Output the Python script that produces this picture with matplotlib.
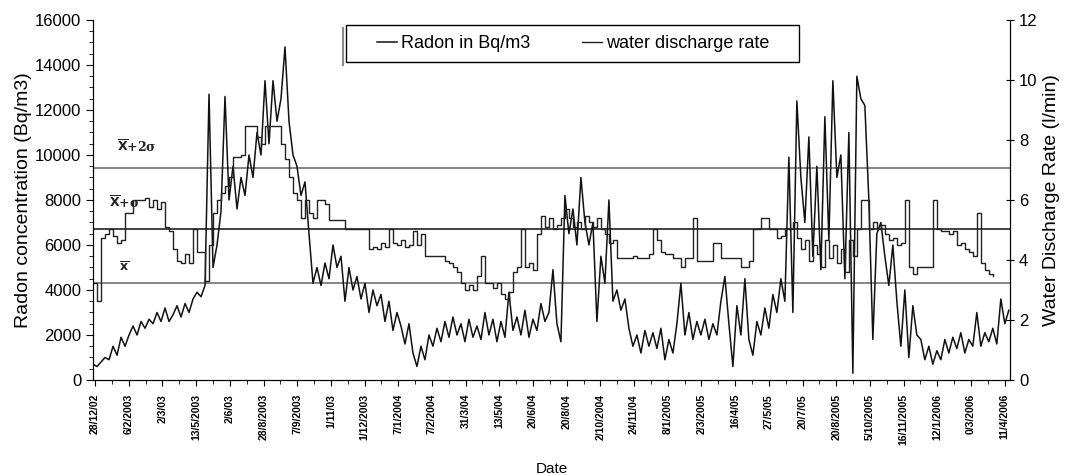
import numpy as np
import matplotlib
matplotlib.use("Agg")
import matplotlib.pyplot as plt
from matplotlib.ticker import MultipleLocator
from matplotlib.patches import Rectangle

plt.rcParams['font.family'] = ['Liberation Sans', 'DejaVu Sans']

# date labels on the x axis (evenly spaced categories)
date_labels = ["28/12/02", "6/2/2003", "2/3/03", "13/5/2003", "2/6/03", "28/8/2003",
               "7/9/2003", "1/11/03", "1/12/2003", "7/1/2004", "7/2/2004", "31/3/04",
               "13/5/04", "20/6/04", "20/8/04", "2/10/2004", "24/11/04", "8/1/2005",
               "2/3/2005", "16/4/05", "27/5/05", "20/7/05", "20/8/2005", "5/10/2005",
               "16/11/2005", "12/1/2006", "0/3/2006", "11/4/2006"]

# radon concentration (Bq/m3)
radon = [700, 600, 800, 1000, 900, 1500, 1100, 1900, 1500, 2000, 2400, 2000, 2600, 2300,
         2700, 2500, 3000, 2600, 3200, 2600, 2900, 3300, 2800, 3400, 3000, 3600, 3900, 3700,
         4200, 12700, 5000, 6000, 7500, 12600, 8000, 9500, 7600, 9000, 8200, 10000, 9000,
         11000, 10000, 13300, 10500, 13300, 11500, 12500, 14800, 11500, 10000, 9500, 8200,
         8800, 6500, 4300, 5000, 4200, 5200, 4500, 6000, 5000, 5500, 3500, 5000, 4000, 4600,
         3600, 4300, 3000, 4000, 3300, 3800, 2600, 3500, 2200, 3000, 2400, 1600, 2500, 1200,
         600, 1500, 900, 2000, 1500, 2300, 1700, 2600, 1900, 2800, 2000, 2500, 1700, 2700,
         1900, 2400, 1800, 3000, 2000, 2700, 1700, 2600, 1900, 3900, 2200, 2800, 2000, 3100,
         1900, 2700, 2200, 3400, 2600, 3000, 4900, 2500, 1700, 8200, 6500, 7600, 6000, 9000,
         7000, 6000, 7000, 2600, 5500, 4300, 8000, 3500, 4000, 3100, 3600, 2300, 1500, 2000,
         1200, 2200, 1500, 2100, 1400, 2300, 900, 1800, 1200, 2500, 4300, 2000, 3000, 1800,
         2600, 2000, 2700, 1800, 2500, 2000, 3500, 4600, 2500, 600, 3300, 2000, 4500, 1800,
         1100, 2600, 2000, 3200, 2300, 3800, 3000, 4500, 3500, 9900, 3000, 12400, 9000, 7000,
         10800, 5500, 9500, 4900, 11700, 6200, 13300, 9000, 10000, 4500, 11000, 300, 13500,
         12500, 12200, 8000, 1800, 6500, 7000, 5500, 4200, 6000, 3500, 1500, 4000, 1000, 3300,
         2000, 1800, 900, 1500, 700, 1300, 900, 1800, 1200, 1900, 1400, 2100, 1200, 1800,
         1500, 3000, 1500, 2100, 1700, 2300, 1600, 3600, 2500, 3100]

# water discharge rate, in radon-axis units (scaled 16000 <-> 12 l/min)
discharge_scaled = [4300, 3500, 6300, 6500, 6700, 6400, 6100, 6200, 7400, 7400, 8000, 8000,
                    8000, 8100, 7700, 8000, 7600, 7900, 6800, 6600, 5800, 5300, 5200, 5600,
                    5200, 6700, 5700, 5700, 4400, 6000, 7400, 8000, 8300, 8600, 9000, 9900,
                    9900, 10000, 11300, 11300, 11300, 10800, 10500, 11300, 11300, 11300,
                    11300, 10500, 9800, 9000, 8300, 8000, 7200, 8000, 7400, 7200, 8000, 8000,
                    7800, 7100, 7100, 7100, 7100, 6700, 6700, 6700, 6700, 6700, 6700, 5800,
                    5900, 5800, 6100, 5900, 6700, 6100, 6000, 6200, 5900, 6000, 6600, 6000,
                    6500, 5500, 5500, 5500, 5500, 5500, 5300, 5200, 5000, 4800, 4300, 4000,
                    4200, 4000, 4600, 5500, 4300, 4300, 4100, 4300, 3800, 3600, 3900, 4800,
                    5000, 6700, 5000, 5200, 4900, 6500, 7300, 6800, 7200, 6700, 6900, 7200,
                    7600, 7200, 6800, 7000, 6700, 7300, 7000, 6800, 7200, 6700, 6500, 6100,
                    6200, 5400, 5400, 5400, 5400, 5500, 5400, 5400, 5400, 5600, 6700, 6200,
                    5700, 5600, 5600, 5400, 5400, 5000, 5400, 5400, 7200, 5300, 5300, 5300,
                    5300, 6100, 6100, 5400, 5400, 5400, 5400, 5400, 5000, 5000, 5300, 6700,
                    6700, 7200, 7200, 6700, 6700, 6300, 6400, 6700, 6700, 7000, 6300, 5800,
                    6200, 5300, 6000, 5600, 5000, 6200, 5400, 6000, 5200, 5800, 4800, 6200,
                    5500, 6700, 8000, 8000, 6700, 7000, 6700, 6900, 6500, 6200, 6300, 6000,
                    6100, 8000, 5000, 4700, 5000, 5000, 5000, 5000, 8000, 6700, 6600, 6600,
                    6500, 6600, 6000, 6100, 5800, 5700, 5500, 7400, 5200, 4900, 4700, 4600]
discharge = [v * 12 / 16000 for v in discharge_scaled]

# reference levels for radon
mean_level = 4300
sigma1_level = 6700
sigma2_level = 9400

fig = plt.figure(figsize=(10.67, 4.75), dpi=100)
ax = fig.add_axes([0.0872, 0.2, 0.8594, 0.758])
ax2 = ax.twinx()

x_r = np.arange(len(radon))
x_d = np.arange(len(discharge))

ax.axhline(sigma2_level, color='#666666', lw=1.1, zorder=1)
ax.axhline(sigma1_level, color='#333333', lw=1.3, zorder=1)
ax.axhline(mean_level, color='#666666', lw=1.1, zorder=1)

l1, = ax.plot(x_r, radon, color='#111111', lw=1.1, label='Radon in Bq/m3', zorder=3)
l2, = ax2.plot(x_d, discharge, color='#222222', lw=1.0, drawstyle='steps-post',
               label='water discharge rate', zorder=2)

ax.set_ylim(0, 16000)
ax2.set_ylim(0, 12)
ax.set_xlim(0, 229.3)

ax.yaxis.set_major_locator(MultipleLocator(2000))
ax.yaxis.set_minor_locator(MultipleLocator(500))
ax2.yaxis.set_major_locator(MultipleLocator(2))

label_step = 8.425
tick_pos = 0.5 + label_step * np.arange(len(date_labels))
ax.set_xticks(tick_pos)
ax.set_xticklabels(date_labels, rotation=90, fontsize=7.5, fontweight='bold')
ax.set_xticks(tick_pos[:-1] + label_step / 2, minor=True)

ax.tick_params(axis='y', labelsize=12, length=5, direction='out')
ax.tick_params(axis='y', which='minor', length=3)
ax.tick_params(axis='x', length=4, direction='out', pad=6)
ax.tick_params(axis='x', which='minor', length=3)
ax2.tick_params(axis='y', labelsize=12, length=6, direction='inout')

for a in (ax, ax2):
    a.spines['top'].set_visible(False)

ax.set_ylabel('Radon concentration (Bq/m3)', fontsize=14, labelpad=2)
ax2.set_ylabel('Water Discharge Rate (l/min)', fontsize=14, labelpad=4)
ax.set_xlabel('Date', fontsize=11, labelpad=12)

# labels of the reference levels
ann = dict(fontsize=9, fontweight='bold', family='DejaVu Serif', color='#222222')
ax.text(6, 10150, r'$\overline{\mathbf{X}}$+2σ', **ann)
ax.text(4, 7650, r'$\overline{\mathbf{X}}$+σ', **ann)
ax.text(6.5, 4850, r'$\overline{\mathbf{x}}$', **ann)

# legend: frame drawn by hand so it can be wider than the entries
ax.add_patch(Rectangle((0.276, 0.883), 0.494, 0.103, transform=ax.transAxes,
                       fill=False, edgecolor='black', lw=1.0, zorder=5, clip_on=False))
ax.plot([0.2725, 0.2725], [0.875, 0.978], transform=ax.transAxes, color='#888888',
        lw=1.5, zorder=5, clip_on=False)
leg = ax.legend(handles=[l1, l2], loc='center left', bbox_to_anchor=(0.3097, 0.934),
                ncol=2, fontsize=13, frameon=False, handlelength=1.1,
                handletextpad=0.2, columnspacing=2.9, borderpad=0, borderaxespad=0)

fig.savefig('out.png', dpi=100)
